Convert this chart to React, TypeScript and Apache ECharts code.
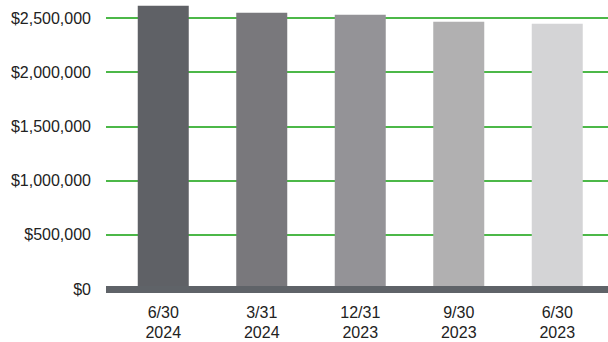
import React, { useEffect, useRef } from "react";
import * as echarts from "echarts";

const categories = ["6/30\n2024", "3/31\n2024", "12/31\n2023", "9/30\n2023", "6/30\n2023"];
const values = [2614000, 2549000, 2530000, 2466000, 2447000];
const barColors = ["#5f6166", "#79787c", "#949397", "#b1b0b1", "#d4d4d6"];
const yTicks = [0, 500000, 1000000, 1500000, 2000000, 2500000];

const fmt = (v: number) => "$" + v.toLocaleString("en-US");

export default function App() {
  const ref = useRef<HTMLDivElement>(null);
  useEffect(() => {
    document.body.style.margin = "0";
    if (!ref.current) return;
    const chart = echarts.init(ref.current, null, { renderer: "svg" });
    const yMax = yTicks[yTicks.length - 1];
    const interval = yTicks[1] - yTicks[0];
    chart.setOption({
      animation: false,
      textStyle: { fontFamily: "Liberation Sans, Arial, sans-serif" },
      grid: [
        { left: 114, right: 1.5, top: 18, bottom: 53 },
        { left: 106, right: 0, top: 18, bottom: 53 },
      ],
      xAxis: [
        {
          type: "category",
          gridIndex: 0,
          data: categories,
          axisLine: { show: false },
          axisTick: { show: false },
          axisLabel: {
            color: "#222",
            fontSize: 16,
            lineHeight: 20,
            margin: 13,
            fontFamily: "Liberation Sans, Arial, sans-serif",
          },
        },
        {
          type: "value",
          gridIndex: 1,
          min: 0,
          max: 1,
          z: 10,
          axisLine: { show: true, lineStyle: { color: "#5f6368", width: 7, cap: "butt" } },
          axisTick: { show: false },
          axisLabel: { show: false },
          splitLine: { show: false },
        },
      ],
      yAxis: [
        {
          type: "value",
          gridIndex: 0,
          min: 0,
          max: yMax,
          interval,
          axisLine: { show: false },
          axisTick: { show: false },
          axisLabel: { show: false },
          splitLine: { show: false },
        },
        {
          type: "value",
          gridIndex: 1,
          min: 0,
          max: yMax,
          interval,
          axisLine: { show: false },
          axisTick: { show: false },
          axisLabel: {
            color: "#222",
            fontSize: 16,
            margin: 15,
            formatter: (v: number) => fmt(v),
            fontFamily: "Liberation Sans, Arial, sans-serif",
          },
          splitLine: { show: true, lineStyle: { color: "#4cb848", width: 2 } },
        },
      ],
      series: [
        {
          type: "bar",
          xAxisIndex: 0,
          yAxisIndex: 0,
          clip: false,
          barWidth: 51,
          data: values.map((v, i) => ({ value: v, itemStyle: { color: barColors[i] } })),
        },
      ],
    });
    return () => chart.dispose();
  }, []);
  return <div ref={ref} style={{ width: 608, height: 342 }} />;
}
